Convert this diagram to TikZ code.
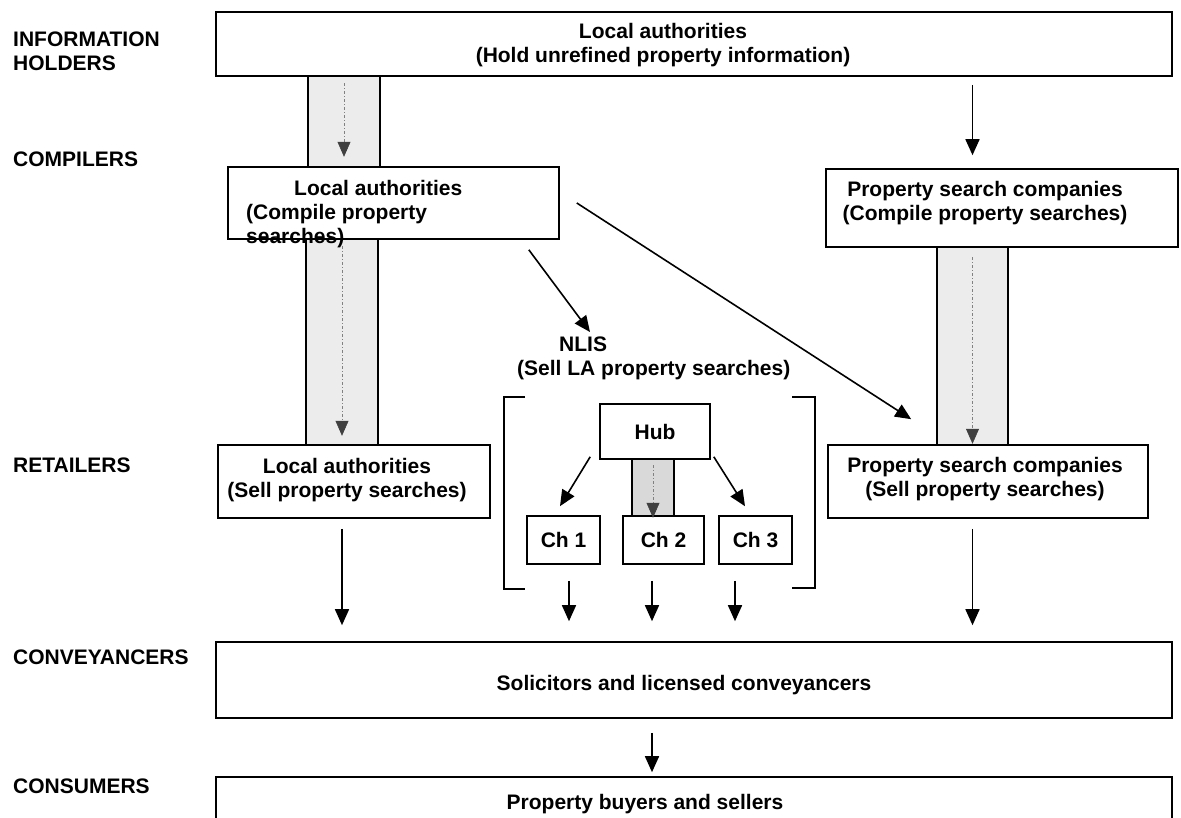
\documentclass[tikz,border=0pt]{standalone}
\usepackage{fontspec}
\setmainfont{Liberation Sans}
\usetikzlibrary{arrows.meta}
\newcommand\diagfont{\fontsize{21}{24}\selectfont\bfseries}
\tikzset{
  box/.style={draw, line width=1.6pt, fill=white, inner sep=0pt},
  col/.style={draw, line width=1.6pt, fill=gray!15, inner sep=0pt},
  txt/.style={font=\diagfont, inner sep=0pt},
  flow/.style={line width=1.6pt, -{Triangle[length=16pt,width=14pt]}},
  dflow/.style={gray, line width=0.6pt, dash pattern=on 3pt off 2pt on 1pt off 2pt,
    -{Triangle[length=15pt,width=13pt,color=black!75]}},
  bracket/.style={line width=1.4pt},
}
\begin{document}
\begin{tikzpicture}[x=1pt, y=-1pt]
    \clip (0,0) rectangle (1181,818);
    
    % tiers on the left
    \node[txt, anchor=north west, align=left] (tInfo) at (13,32) {INFORMATION\\HOLDERS};
    \node[txt, anchor=base west] (tComp) at (13,167) {COMPILERS};
    \node[txt, anchor=base west] (tRet) at (13,472) {RETAILERS};
    \node[txt, anchor=base west] (tConv) at (13,664) {CONVEYANCERS};
    \node[txt, anchor=base west] (tCons) at (13,793) {CONSUMERS};
    
    % grey channels
    \node[col, minimum width=72pt, minimum height=91pt] (colA) at (344,121.5) {};
    \node[col, minimum width=72pt, minimum height=206pt] (colB) at (342,342) {};
    \node[col, minimum width=71pt, minimum height=198pt] (colC) at (972.5,346) {};
    \node[col, fill=gray!30, minimum width=42pt, minimum height=58pt] (colD) at (653,488) {};
    
    % boxes
    \node[box, minimum width=956pt, minimum height=64pt] (laH) at (694,44) {};
    \node[box, minimum width=331pt, minimum height=72pt] (laC) at (393.5,203) {};
    \node[box, minimum width=352pt, minimum height=78pt] (pscC) at (1002,208) {};
    \node[box, minimum width=272pt, minimum height=73pt] (laR) at (354,481.5) {};
    \node[box, minimum width=320pt, minimum height=73pt] (pscR) at (988,481.5) {};
    \node[box, font=\diagfont, minimum width=110pt, minimum height=55pt] (hub) at (655,431.5) {Hub};
    \node[box, font=\diagfont, minimum width=73pt, minimum height=48pt] (ch1) at (563.5,540) {Ch 1};
    \node[box, font=\diagfont, minimum width=81pt, minimum height=48pt] (ch2) at (663.5,540) {Ch 2};
    \node[box, font=\diagfont, minimum width=73pt, minimum height=48pt] (ch3) at (755.5,540) {Ch 3};
    \node[box, minimum width=956pt, minimum height=76pt] (conv) at (694,680) {};
    \node[box, minimum width=956pt, minimum height=80pt] (cons) at (694,817) {};
    
    % texts
    \node[txt, anchor=north, align=center] (laHt) at (663,23) {Local authorities\\(Hold unrefined property information)};
    \node[txt, anchor=north, align=center] (pscCt) at (985,181) {Property search companies\\(Compile property searches)};
    \node[txt, anchor=north, align=center] (laRt) at (347,458) {Local authorities\\(Sell property searches)};
    \node[txt, anchor=north, align=center] (pscRt) at (985,457) {Property search companies\\(Sell property searches)};
    \node[txt, anchor=north west, align=left] (nlis) at (517,337) {\hspace*{42pt}NLIS\\(Sell LA property searches)};
    \node[txt, anchor=base] (convt) at (684,690) {Solicitors and licensed conveyancers};
    \node[txt, anchor=base] (const) at (645,809) {Property buyers and sellers};
    
    % brackets round the NLIS channels
    \draw[bracket] (525,397) -| (504,589) -- (525,589);
    \draw[bracket] (792,397) -| (815,588) -- (792,588);
    
    % flows inside the grey channels
    \draw[dflow] ([yshift=-8pt]colA.north) -- ([yshift=11pt]colA.south);
    \draw[dflow] ([yshift=-8pt]colB.north) -- ([yshift=10pt]colB.south);
    \draw[dflow] ([yshift=-11pt]colC.north) -- ([yshift=2pt]colC.south);
    \draw[dflow] ([yshift=-7pt]colD.north) -- (colD.south);
    
    % flows
    \draw[flow] ([yshift=-8pt]laH.south -| colC) -- ([yshift=13pt]pscC.north -| colC);
    \draw[flow] ([xshift=17pt]laC.east) -- ([shift={(84pt,25pt)}]pscR.north west);
    \draw[flow] ([shift={(-31pt,-10pt)}]laC.south east) -- ([shift={(73pt,5pt)}]nlis.north west);
    \draw[flow] ([shift={(-9pt,3pt)}]hub.south west) -- ([shift={(-3.5pt,9pt)}]ch1.north);
    \draw[flow] ([shift={(3pt,3pt)}]hub.south east) -- ([shift={(-10.5pt,9pt)}]ch3.north);
    \draw[flow] ([yshift=-10pt]laR.south -| colB) -- ([yshift=16pt]conv.north -| colB);
    \draw[flow] ([yshift=-10pt]pscR.south -| colC) -- ([yshift=16pt]conv.north -| colC);
    \foreach \c/\dx in {ch1/5.5, ch2/-11.5, ch3/-20.5}
        \draw[flow] ([shift={(\dx pt,-16pt)}]\c.south) -- ([shift={(\dx pt,20pt)}]\c.south |- conv.north);
    \draw[flow] ([shift={(-42pt,-14pt)}]conv.south) -- ([shift={(-42pt,4pt)}]conv.south |- cons.north);
    
    % compilers box text runs over its lower edge
    \node[txt, anchor=north west, align=left] (laCt) at (246,180) {\hspace*{48pt}Local authorities\\(Compile property\\searches)};
\end{tikzpicture}
\end{document}
